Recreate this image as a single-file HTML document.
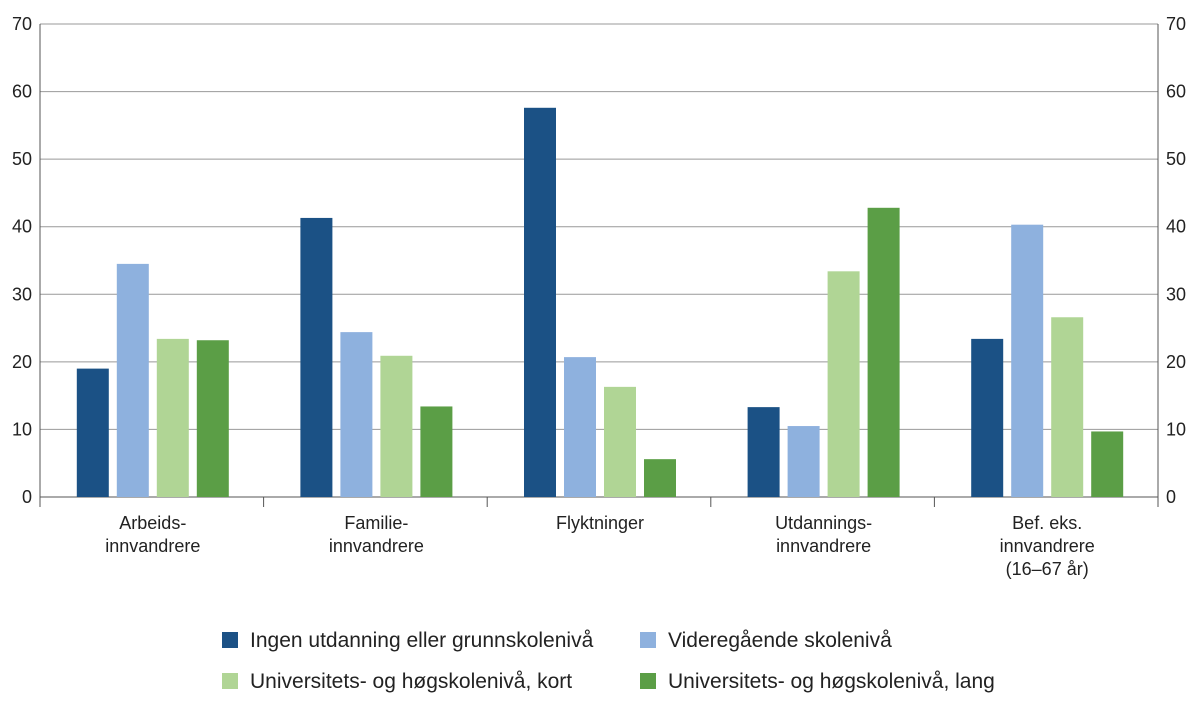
<!DOCTYPE html>
<html><head><meta charset="utf-8"><style>
body{margin:0;background:#fff;font-family:"Liberation Sans",sans-serif;}
svg text{font-family:"Liberation Sans",sans-serif;fill:#222;}
</style></head><body>
<svg id="chart" width="1200" height="709"></svg>
<script>
const categories=[["Arbeids-","innvandrere"],["Familie-","innvandrere"],["Flyktninger"],["Utdannings-","innvandrere"],["Bef. eks.","innvandrere","(16–67 år)"]];
const seriesNames=["Ingen utdanning eller grunnskolenivå","Videregående skolenivå","Universitets- og høgskolenivå, kort","Universitets- og høgskolenivå, lang"];
const seriesColors=["#1b5185","#8eb1de","#b0d595","#5b9e46"];
const s0=[19.0,41.3,57.6,13.3,23.4];
const s1=[34.5,24.4,20.7,10.5,40.3];
const s2=[23.4,20.9,16.3,33.4,26.6];
const s3=[23.2,13.4,5.6,42.8,9.7];
const series=[s0,s1,s2,s3];
const ticks=[0,10,20,30,40,50,60,70];
const svg=document.getElementById('chart');
const NS='http://www.w3.org/2000/svg';
const L=40,R=1158,T=24,B=497,ymax=70;
const y=v=>B-(v/ymax)*(B-T);
const gw=(R-L)/categories.length;
function mk(t,a){const e=document.createElementNS(NS,t);for(const k in a)e.setAttribute(k,a[k]);svg.appendChild(e);return e;}
ticks.forEach(t=>{
  const g=mk('line',{x1:L,x2:R,y1:y(t),y2:y(t),stroke:t===0?'#555':'#999','stroke-width':1});
  
  
  const a=mk('text',{x:L-8,y:y(t)+6,'text-anchor':'end','font-size':18});a.textContent=t;
  
  
  const b=mk('text',{x:R+8,y:y(t)+6,'text-anchor':'start','font-size':18});b.textContent=t;
  
  
});
mk('line',{x1:L,x2:L,y1:T,y2:B+10,stroke:'#555'});
mk('line',{x1:R,x2:R,y1:T,y2:B+10,stroke:'#555'});
for(let i=0;i<=categories.length;i++){mk('line',{x1:L+i*gw,x2:L+i*gw,y1:B,y2:B+10,stroke:'#555'});}
const bw=32,step=40;
categories.forEach((c,i)=>{
  const cx=L+gw*(i+0.5)+1;
  series.forEach((s,j)=>{
    const x=cx-2*step+j*step+(step-bw)/2;
    const r=mk('rect',{x:x,y:y(s[i]),width:bw,height:B-y(s[i]),fill:seriesColors[j]});
    
    
  });
  c.forEach((ln,k)=>{
    const t=mk('text',{x:cx,y:529+k*23,'text-anchor':'middle','font-size':18});t.textContent=ln;
    
    
  });
});
const lx=[222,640],ly=[640,681];
seriesNames.forEach((n,j)=>{
  const X=lx[j%2],Y=ly[Math.floor(j/2)];
  const r=mk('rect',{x:X,y:Y-8,width:16,height:16,fill:seriesColors[j]});
  
  
  const t=mk('text',{x:X+28,y:Y+7,'font-size':21});t.textContent=n;
  
  
});
</script>
</body></html>
